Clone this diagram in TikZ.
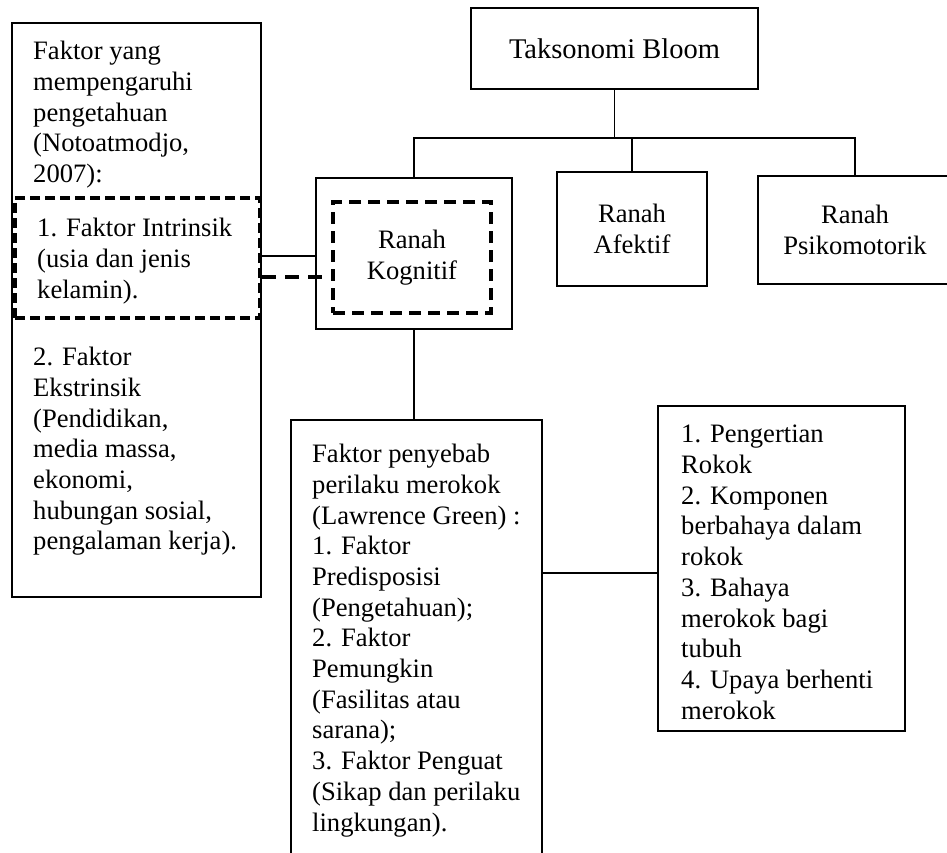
\documentclass[tikz,border=0pt]{standalone}
\usepackage{fontspec}
\setmainfont{Liberation Serif}
\begin{document}
\begin{tikzpicture}[x=1pt,y=-1pt,
  box/.style={draw, line width=2pt, inner sep=0pt, align=center},
  dbox/.style={draw, line width=3.6pt, inner sep=0pt, align=center, dash pattern=on 10pt off 5pt},
  conn/.style={line width=1.8pt},
  dconn/.style={line width=3.6pt, dash pattern=on 14pt off 9pt},
  txt/.style={anchor=north west, inner sep=0pt, align=left},
  every node/.style={font=\fontsize{26.6}{30.7}\selectfont}
]
\useasboundingbox (0,0) rectangle (947,852);
% boxes
\node[box, minimum width=249pt, minimum height=574pt] (lb) at (136.5,310) {};
\node[dbox, minimum width=245pt, minimum height=120pt] (intr) at (137.5,258) {};
\node[box, minimum width=287pt, minimum height=81pt, font=\fontsize{28.5}{32}\selectfont] (tb) at (614.5,48.5) {Taksonomi Bloom};
\node[box, minimum width=196pt, minimum height=151pt] (kog) at (414,253.5) {};
\node[dbox, dash pattern=on 12pt off 7pt, minimum width=158pt, minimum height=111pt] (kogin) at (412,257.5) {Ranah\\Kognitif};
\node[box, minimum width=150pt, minimum height=114pt] (afk) at (632,229) {Ranah\\Afektif};
\node[box, minimum width=194pt, minimum height=108pt] (psi) at (855,230) {Ranah\\Psikomotorik};
\node[box, minimum width=251pt, minimum height=440pt] (fp) at (416.5,640) {};
\node[box, minimum width=247pt, minimum height=325pt] (rb) at (781.5,568.5) {};
% texts
\node[txt] (t1) at (33,41) {Faktor yang\\mempengaruhi\\pengetahuan\\(Notoatmodjo,\\2007):};
\node[txt] (t2) at (37,218) {1. Faktor Intrinsik\\(usia dan jenis\\kelamin).};
\node[txt] (t3) at (33,347) {2. Faktor\\Ekstrinsik\\(Pendidikan,\\media massa,\\ekonomi,\\hubungan sosial,\\pengalaman kerja).};
\node[txt] (t4) at (312,444) {Faktor penyebab\\perilaku merokok\\(Lawrence Green) :\\1. Faktor\\Predisposisi\\(Pengetahuan);\\2. Faktor\\Pemungkin\\(Fasilitas atau\\sarana);\\3. Faktor Penguat\\(Sikap dan perilaku\\lingkungan).};
\node[txt] (t5) at (681,425) {1. Pengertian\\Rokok\\2. Komponen\\berbahaya dalam\\rokok\\3. Bahaya\\merokok bagi\\tubuh\\4. Upaya berhenti\\merokok};
% connectors
\coordinate (hb) at (630,138);
\draw[conn] (tb.south) -- (tb.south |- hb);
\draw[conn] (kog.north) |- (psi.north |- hb) -- (psi.north);
\draw[conn] (afk.north |- hb) -- (afk.north);
\draw[conn] (lb.east |- 0,256) -- (kog.west |- 0,256);
\draw[dconn] (lb.east |- 0,277) -- (kogin.west |- 0,277);
\draw[conn] (kog.south) -- (kog.south |- fp.north);
\draw[conn] (fp.east |- 0,573) -- (rb.west |- 0,573);
\end{tikzpicture}
\end{document}
